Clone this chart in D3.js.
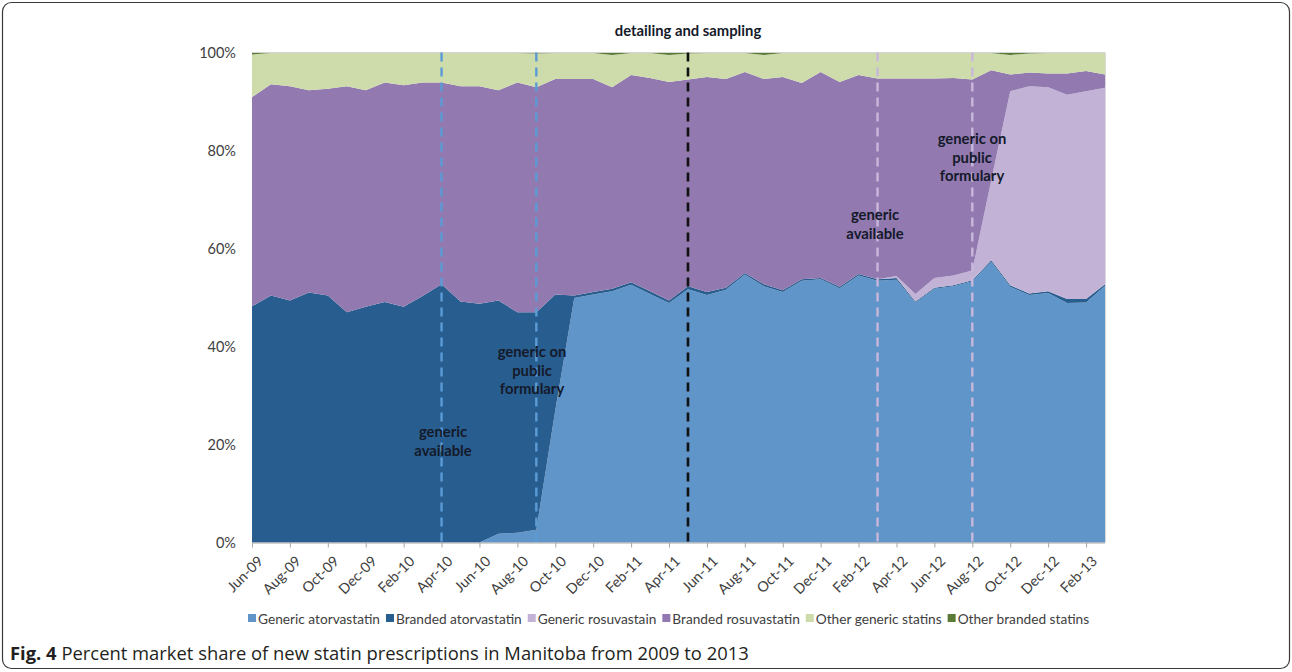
<!DOCTYPE html>
<html>
<head>
<meta charset="utf-8">
<script src="https://cdn.jsdelivr.net/npm/d3@7"></script>
<style>
  html, body { margin: 0; padding: 0; background: #fff; }
  svg { display: block; }
</style>
</head>
<body>
<svg id="chart" width="1292" height="672"></svg>
<script>
// ---------------- DATA ----------------
const months = ["Jun-09","Jul-09","Aug-09","Sep-09","Oct-09","Nov-09","Dec-09","Jan-10","Feb-10","Mar-10",
  "Apr-10","May-10","Jun-10","Jul-10","Aug-10","Sep-10","Oct-10","Nov-10","Dec-10","Jan-11",
  "Feb-11","Mar-11","Apr-11","May-11","Jun-11","Jul-11","Aug-11","Sep-11","Oct-11","Nov-11",
  "Dec-11","Jan-12","Feb-12","Mar-12","Apr-12","May-12","Jun-12","Jul-12","Aug-12","Sep-12",
  "Oct-12","Nov-12","Dec-12","Jan-13","Feb-13","Mar-13"];

const tickLabels = ["Jun-09","Aug-09","Oct-09","Dec-09","Feb-10","Apr-10","Jun-10","Aug-10","Oct-10","Dec-10",
  "Feb-11","Apr-11","Jun-11","Aug-11","Oct-11","Dec-11","Feb-12","Apr-12","Jun-12","Aug-12",
  "Oct-12","Dec-12","Feb-13"];

const yTicks = [0, 20, 40, 60, 80, 100];

const seriesNames = ["Generic atorvastatin","Branded atorvastatin","Generic rosuvastain",
  "Branded rosuvastatin","Other generic statins","Other branded statins"];

const genericAtorvastatin = [0,0,0,0,0,0,0,0,0,0,
  0,0,0,1.8,2.0,2.6,27.0,49.9,50.6,51.3,
  52.6,50.7,48.9,51.7,50.5,51.6,54.7,52.3,51.1,53.4,
  53.7,51.9,54.5,53.4,53.6,49.0,51.8,52.3,53.3,57.3,
  52.2,50.5,50.9,48.9,49.0,52.4];

const brandedAtorvastatin = [48.2,50.4,49.4,51.0,50.4,47.0,48.1,49.1,48.1,50.3,
  52.7,49.2,48.7,47.6,45.0,44.4,23.6,0.5,0.5,0.5,
  0.5,0.6,0.5,0.6,0.6,0.4,0.3,0.4,0.4,0.3,
  0.3,0.3,0.3,0.3,0.4,0.2,0.2,0.2,0.2,0.3,
  0.3,0.3,0.4,0.8,0.7,0.3];

const genericRosuvastatin = [0,0,0,0,0,0,0,0,0,0,
  0,0,0,0,0,0,0,0,0,0,
  0,0,0,0,0,0,0,0,0,0,
  0,0,0,0,0.4,1.5,2.0,2.0,2.0,16.4,
  39.6,42.3,41.6,41.7,42.4,40.1];

const brandedRosuvastatin = [42.7,43.1,43.7,41.3,42.2,46.1,44.2,44.8,45.2,43.6,
  41.2,43.9,44.4,42.9,46.9,45.9,44.0,44.2,43.5,41.1,
  42.3,43.5,44.6,42.2,43.9,42.6,41.0,41.9,43.5,40.1,
  42.0,41.8,40.6,41.0,40.3,44.0,40.7,40.3,39.0,22.4,
  3.4,2.8,2.8,4.3,4.1,2.7];

const otherGenericStatins = [8.7,6.4,6.8,7.6,7.3,6.8,7.6,6.0,6.6,6.0,
  6.0,6.8,6.8,7.6,6.0,6.9,5.3,5.3,5.3,6.6,
  4.5,5.1,5.5,5.3,4.9,5.3,3.9,4.9,4.9,6.1,
  3.9,5.9,4.5,5.2,5.2,5.2,5.2,5.1,5.4,3.5,
  4.0,3.9,4.2,4.2,3.7,4.4];

const otherBrandedStatins = [0.4,0.1,0.1,0.1,0.1,0.1,0.1,0.1,0.1,0.1,
  0.1,0.1,0.1,0.1,0.1,0.2,0.1,0.1,0.1,0.5,
  0.1,0.1,0.5,0.2,0.1,0.1,0.1,0.5,0.1,0.1,
  0.1,0.1,0.1,0.1,0.1,0.1,0.1,0.1,0.1,0.1,
  0.5,0.2,0.1,0.1,0.1,0.1];

const eventLines = ["Apr-10","Sep-10","May-11","Mar-12","Aug-12"];

// ---------------- STYLE ----------------
const colors = ["#5f95c9","#285d8f","#c1b2d6","#9279b0","#cedcab","#5a7a35"];
const eventColors = ["#5b9bd5","#5b9bd5","#111111","#c9b7dc","#c9b7dc"];

const svg = d3.select("#chart");
const W = 1292, H = 672;

// outer frame
svg.append("rect").attr("x", 2.5).attr("y", 2.5).attr("width", W - 5).attr("height", H - 6)
  .attr("rx", 9).attr("fill", "none").attr("stroke", "#3a3a3a").attr("stroke-width", 1.2);

const x = d3.scalePoint().domain(months).range([252, 1105]);
const y = d3.scaleLinear().domain([0, 100]).range([542.5, 52.5]);

const table = months.map((m, i) => ({
  month: m,
  [seriesNames[0]]: genericAtorvastatin[i],
  [seriesNames[1]]: brandedAtorvastatin[i],
  [seriesNames[2]]: genericRosuvastatin[i],
  [seriesNames[3]]: brandedRosuvastatin[i],
  [seriesNames[4]]: otherGenericStatins[i],
  [seriesNames[5]]: otherBrandedStatins[i]
}));

const stacked = d3.stack().keys(seriesNames)(table);

const area = d3.area()
  .x(d => x(d.data.month))
  .y0(d => y(d[0]))
  .y1(d => y(Math.min(d[1], 100)));

svg.append("g").selectAll("path").data(stacked).join("path")
  .attr("d", area)
  .attr("fill", (d, i) => colors[i]);

// plot border (light)
svg.append("line").attr("x1", 252).attr("x2", 1105).attr("y1", y(100)).attr("y2", y(100))
  .attr("stroke", "#d4d4d4").attr("stroke-width", 1);
svg.append("line").attr("x1", 1105.5).attr("x2", 1105.5).attr("y1", y(100)).attr("y2", y(0))
  .attr("stroke", "#d9d9d9").attr("stroke-width", 1);

// event lines
svg.append("g").selectAll("line").data(eventLines).join("line")
  .attr("x1", d => x(d)).attr("x2", d => x(d))
  .attr("y1", y(100)).attr("y2", y(0))
  .attr("stroke", (d, i) => eventColors[i])
  .attr("stroke-width", (d, i) => i === 2 ? 2.6 : 2.4)
  .attr("stroke-dasharray", "9,6");

// x axis
const xAxis = d3.axisBottom(x).tickValues(tickLabels).tickSize(5).tickFormat(d => d);
const gx = svg.append("g").attr("transform", `translate(0,${y(0)})`).call(xAxis);
gx.select(".domain").attr("stroke", "#a6a6a6").attr("d", `M252,0.5H1105`);
gx.selectAll(".tick line").attr("stroke", "#a6a6a6");
gx.selectAll(".tick text")
  .attr("font-family", "Lato, 'Open Sans', sans-serif")
  .attr("font-size", 14.3)
  .attr("fill", "#404040")
  .attr("text-anchor", "end")
  .attr("y", 0).attr("dy", "0.35em")
  .attr("transform", "translate(8,16) rotate(-45)");

// y axis labels
svg.append("g").selectAll("text").data(yTicks).join("text")
  .attr("x", 236).attr("y", d => y(d)).attr("dy", "0.35em")
  .attr("text-anchor", "end")
  .attr("font-family", "Lato, 'Open Sans', sans-serif")
  .attr("font-size", 14.5)
  .attr("fill", "#404040")
  .text(d => d + "%");

// annotations
const annFont = "Lato, 'Open Sans', sans-serif";
function ann(lines, cx, y0, lh) {
  const t = svg.append("text").attr("text-anchor", "middle")
    .attr("font-family", annFont).attr("font-weight", "bold").attr("font-size", 14.8)
    .attr("fill", "#141a2a");
  lines.forEach((l, i) => t.append("tspan").attr("x", cx).attr("y", y0 + i * lh).text(l));
}
ann(["detailing and sampling"], 688, 36, 18);
ann(["generic", "available"], 443, 437, 19);
ann(["generic on", "public", "formulary"], 532, 357, 18.5);
ann(["generic", "available"], 875, 220, 18.5);
ann(["generic on", "public", "formulary"], 972, 144, 18.5);

// legend
const lg = svg.append("g").attr("font-family", annFont).attr("font-size", 13.7).attr("fill", "#404040");
let lx = 248;
seriesNames.forEach((name, i) => {
  lg.append("rect").attr("x", lx).attr("y", 614).attr("width", 8).attr("height", 8).attr("fill", colors[i]);
  const t = lg.append("text").attr("x", lx + 10).attr("y", 623.5).text(name);
  lx += 10 + t.node().getComputedTextLength() + 6;
});

// caption
const cap = svg.append("text").attr("x", 10).attr("y", 660)
  .attr("font-family", "'Open Sans', sans-serif").attr("font-size", 18.4).attr("fill", "#231f20");
cap.append("tspan").attr("font-weight", "bold").text("Fig. 4");
cap.append("tspan").text(" Percent market share of new statin prescriptions in Manitoba from 2009 to 2013");
</script>
</body>
</html>
